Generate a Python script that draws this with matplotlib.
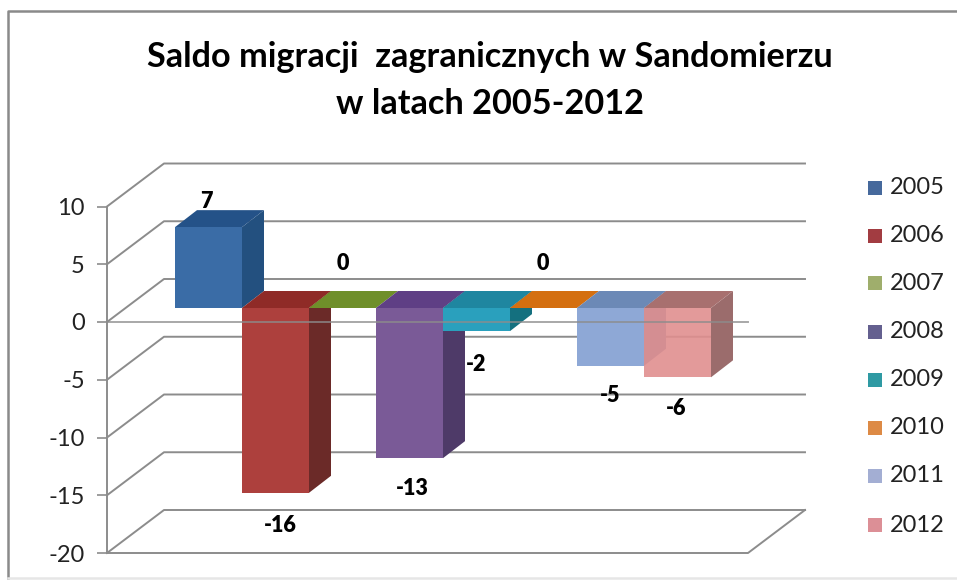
import matplotlib
matplotlib.use('Agg')
import matplotlib.pyplot as plt
from matplotlib.lines import Line2D
from matplotlib.patches import Polygon, Rectangle

plt.rcParams['font.family'] = ['Lato', 'DejaVu Sans']
plt.rcParams['axes.unicode_minus'] = False

years = ['2005', '2006', '2007', '2008', '2009', '2010', '2011', '2012']
saldo = [7, -16, 0, -13, -2, 0, -5, -6]
y_ticks = [10, 5, 0, -5, -10, -15, -20]

front_colors = ['#3a6ca6', '#ad403d', '#7f9c3a', '#7a5a97', '#2aa0bd', '#e07a1f', '#8ea8d6', '#e08f8f']
top_colors = ['#245288', '#8f2b27', '#6f8f2a', '#5f3f85', '#1f86a0', '#d46f10', '#6c89b6', '#a8706f']
side_colors = ['#23507f', '#6b2a28', '#5a7322', '#4e3a68', '#14707f', '#b25c0c', '#6f88ad', '#9b6c6c']
legend_colors = ['#46699c', '#a23c41', '#9fae6c', '#64608f', '#2f9aa3', '#dd8a45', '#a3aed3', '#dc8f96']
label_off = [(-2, 26), (5, -33), (0, 45), (3, -30), (0, -33), (-1, 45), (0, -30), (-1, -31)]

W, H = 957, 581
PX_X = 67.0     # one bar
PX_Y = 11.55    # one unit on the value axis

fig = plt.figure(figsize=(W / 100, H / 100), dpi=100)
ax = fig.add_axes([107 / W, 1 - 553 / H, 641 / W, 30 * PX_Y / H])
ax.set_xlim(-68 / PX_X, 573 / PX_X)
ax.set_ylim(-20, 10)
ax.patch.set_visible(False)

for s in ['top', 'right', 'bottom']:
    ax.spines[s].set_visible(False)
ax.spines['left'].set_color('#8c8c8c')
ax.spines['left'].set_linewidth(1.4)
ax.set_xticks([])
ax.set_yticks(y_ticks)
ax.tick_params(axis='y', length=7, width=1.2, color='#8c8c8c', labelsize=17, labelcolor='#222222', pad=9)

x0, x1 = ax.get_xlim()
wall_dx = 57 / PX_X
wall_dy = 43 / PX_Y
for t in y_ticks:
    ax.plot([x0, x0 + wall_dx, x1 + wall_dx], [t, t + wall_dy, t + wall_dy], color='#8c8c8c', lw=1.4, clip_on=False, zorder=1)
# floor front and right edge
ax.plot([x0, x1, x1 + wall_dx], [-20, -20, -20 + wall_dy], color='#8c8c8c', lw=1.4, clip_on=False, zorder=1)

# bars stand on a plane a little behind the front of the chart
base = 14 / PX_Y
dep_x = 22 / PX_X
dep_y = 17 / PX_Y
for i, v in enumerate(saldo):
    z = 3 + i
    y0 = base
    y1 = base + v
    upper = max(y0, y1)
    ax.add_patch(Polygon([(i + 1, y0), (i + 1 + dep_x, y0 + dep_y), (i + 1 + dep_x, y1 + dep_y), (i + 1, y1)],
                         closed=True, fc=side_colors[i], ec='none', zorder=z, clip_on=False))
    ax.add_patch(Polygon([(i, upper), (i + dep_x, upper + dep_y), (i + 1 + dep_x, upper + dep_y), (i + 1, upper)],
                         closed=True, fc=top_colors[i], ec='none', zorder=z, clip_on=False))
    if v != 0:
        ax.add_patch(Rectangle((i, min(y0, y1)), 1, abs(v), fc=front_colors[i], ec='none',
                               alpha=0.9 if i == 7 else 1, zorder=z, clip_on=False))
    ax.annotate(str(v), (i + 0.5, y1), xytext=label_off[i], textcoords='offset pixels',
                ha='center', va='center', fontsize=15.5, fontweight='heavy', color='black', zorder=20)

# zero line shows through the bars
ax.plot([x0, x1], [0, 0], color='#8c8c8c', lw=1.4, alpha=0.75, zorder=15, clip_on=False)

# legend
leg_y = [188, 236, 283, 332, 380, 428, 476, 525]
for name, c, ly in zip(years, legend_colors, leg_y):
    fig.add_artist(Rectangle((868 / W, 1 - (ly + 7) / H), 14 / W, 14 / H, transform=fig.transFigure, fc=c, ec='none'))
    fig.text(890 / W, 1 - ly / H, name, fontsize=17, color='#222222', va='center', ha='left')

fig.text(490 / W, 1 - 57 / H, 'Saldo migracji  zagranicznych w Sandomierzu', fontsize=24.7, fontweight='bold',
         color='black', ha='center', va='center')
fig.text(490 / W, 1 - 104 / H, 'w latach 2005-2012', fontsize=24.7, fontweight='bold',
         color='black', ha='center', va='center')

# outer frame of the pasted chart: left and top are dark, bottom is only faint
fig.add_artist(Line2D([8 / W, 8 / W, 1], [1 - 578 / H, 1 - 11 / H, 1 - 11 / H], color='#8a8a8a', lw=1.8))
fig.add_artist(Line2D([8 / W, 1], [1 - 578 / H, 1 - 578 / H], color='#e6e6e6', lw=1.8))

fig.savefig('out.png', dpi=100)
